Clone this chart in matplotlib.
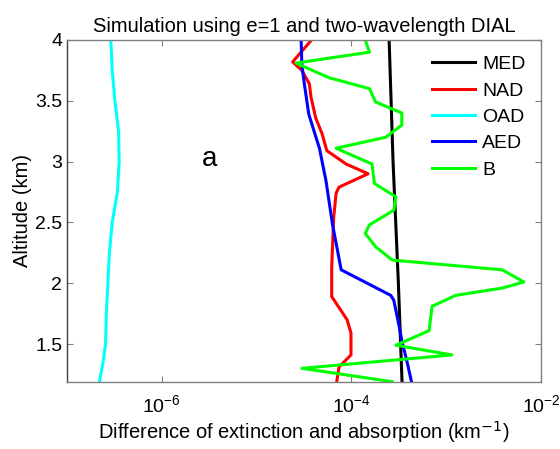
import matplotlib
matplotlib.use("Agg")
import matplotlib.pyplot as plt
from matplotlib.ticker import FixedLocator, NullLocator

plt.rcParams['font.family'] = ['Liberation Sans', 'DejaVu Sans']

# values (x in km^-1, y altitude in km)
med_alt = [4.0, 3.0, 2.0, 1.19]
med_val = [2.5e-4, 2.75e-4, 3.13e-4, 3.42e-4]

nad_alt = [4.0, 3.82, 3.75, 3.64, 3.53, 3.36, 3.23, 3.09, 2.98, 2.90, 2.79, 2.74,
           2.54, 2.13, 1.89, 1.80, 1.70, 1.59, 1.41, 1.37, 1.31, 1.19]
nad_val = [3.8e-5, 2.4e-5, 3.0e-5, 3.6e-5, 3.75e-5, 4.2e-5, 4.9e-5, 5.5e-5, 8.8e-5,
           1.5e-4, 7.4e-5, 6.9e-5, 6.5e-5, 6.2e-5, 6.2e-5, 7.4e-5, 9.0e-5, 9.9e-5,
           9.9e-5, 8.8e-5, 7.4e-5, 7.0e-5]

oad_alt = [4.0, 3.75, 3.5, 3.25, 3.0, 2.75, 2.5, 2.25, 2.0, 1.75, 1.5, 1.35, 1.19]
oad_val = [2.9e-7, 3.0e-7, 3.2e-7, 3.5e-7, 3.55e-7, 3.4e-7, 3.0e-7, 2.8e-7, 2.7e-7,
           2.6e-7, 2.55e-7, 2.4e-7, 2.2e-7]

aed_alt = [4.0, 3.8, 3.66, 3.39, 3.11, 2.84, 2.49, 2.11, 1.90, 1.86, 1.64, 1.53, 1.34, 1.19]
aed_val = [2.95e-5, 3.0e-5, 3.16e-5, 3.55e-5, 4.6e-5, 5.4e-5, 6.3e-5, 7.8e-5, 2.6e-4,
           2.8e-4, 3.2e-4, 3.4e-4, 3.9e-4, 4.3e-4]

b_alt = [4.0, 3.90, 3.81, 3.69, 3.60, 3.49, 3.40, 3.30, 3.20, 3.11, 2.98, 2.82, 2.71,
         2.60, 2.48, 2.41, 2.30, 2.19, 2.11, 2.01, 1.96, 1.90, 1.81, 1.61, 1.49, 1.41,
         1.30, 1.19]
b_val = [1.4e-4, 1.55e-4, 2.6e-5, 5.8e-5, 1.55e-4, 1.8e-4, 3.4e-4, 3.4e-4, 2.3e-4,
         6.9e-5, 1.65e-4, 1.75e-4, 2.95e-4, 2.8e-4, 1.55e-4, 1.4e-4, 1.8e-4, 2.7e-4,
         3.9e-3, 6.6e-3, 3.9e-3, 1.26e-3, 7.1e-4, 6.6e-4, 2.95e-4, 1.15e-3, 3.0e-5,
         2.7e-4]

fig = plt.figure(figsize=(5.6, 4.49), dpi=100)
ax = fig.add_axes([67/560, (449-381.7)/449, (541-67)/560, (381.7-40)/449])

ax.plot(med_val, med_alt, color='black', lw=2.2, label='MED')
ax.plot(nad_val, nad_alt, color='#ff0000', lw=2.2, label='NAD')
ax.plot(oad_val, oad_alt, color='#00ffff', lw=2.2, label='OAD')
ax.plot(aed_val, aed_alt, color='#0000ff', lw=2.2, label='AED')
ax.plot(b_val, b_alt, color='#00ff00', lw=2.2, label='B')

ax.set_xscale('log')
ax.set_xlim(1e-7, 1e-2)
ax.set_ylim(1.19, 4)
ax.xaxis.set_major_locator(FixedLocator([1e-6, 1e-4, 1e-2]))
ax.xaxis.set_minor_locator(NullLocator())
ax.set_yticks([1.5, 2, 2.5, 3, 3.5, 4])
ax.set_yticklabels(['1.5', '2', '2.5', '3', '3.5', '4'])
ax.tick_params(direction='in', length=4, width=0.8, top=True, right=True,
               labelsize=14, colors='#808080', labelcolor='black')
ax.tick_params(axis='x', pad=9)

for s in ax.spines.values():
    s.set_color('#808080')
    s.set_linewidth(1.0)
ax.spines['left'].set_color('#404040')

ax.set_title('Simulation using e=1 and two-wavelength DIAL', fontsize=14.5, pad=6)
ax.set_xlabel('Difference of extinction and absorption (km$^{-1}$)', fontsize=14.5, labelpad=2)
ax.set_ylabel('Altitude (km)', fontsize=14.5, labelpad=2)

ax.text(3.2e-6, 3.02, 'a', fontsize=20, ha='center', va='center')

ax.legend(loc='upper right', frameon=False, fontsize=14, handlelength=2.2,
          handletextpad=0.35, labelspacing=0.45, borderaxespad=0.4)

fig.savefig('out.png', dpi=100)
